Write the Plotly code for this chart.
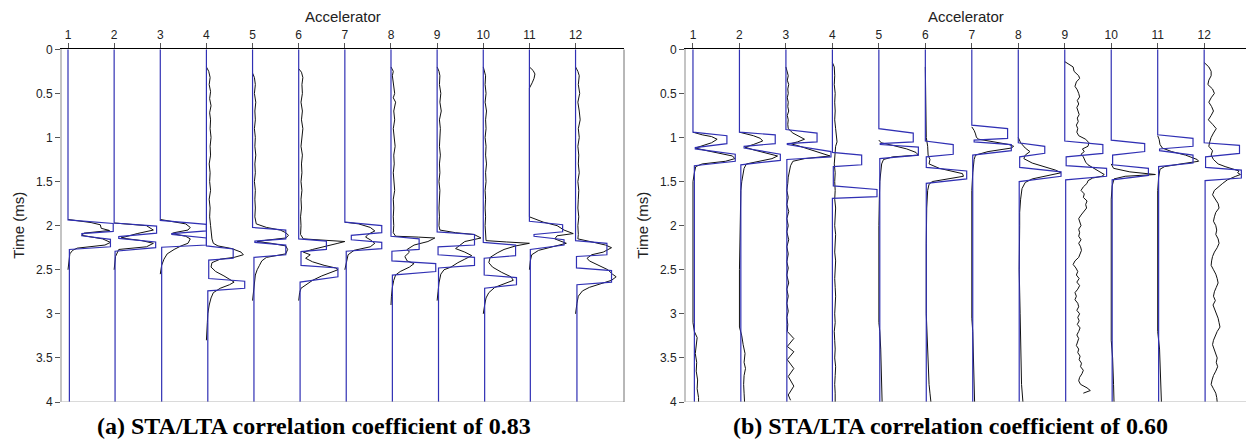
import plotly.graph_objects as go

accelerators = list(range(1, 13))
time_ticks = [0, 0.5, 1, 1.5, 2, 2.5, 3, 3.5, 4]
captions = ["(a) STA/LTA correlation coefficient of 0.83",
            "(b) STA/LTA correlation coefficient of 0.60"]

# ---------------------------------------------------------------------------
# Panel (a): STA/LTA picking windows, (time ms, amplitude) vertices per channel
# ---------------------------------------------------------------------------
a_window = [
    [(0, 0), (1.935, 0), (1.975, 0.98), (2.065, 0.98), (2.09, 0.3), (2.115, 0.3), (2.155, 0.92), (2.24, 0.92), (2.27, 0.03), (4, 0.03)],
    [(0, 0), (1.97, 0), (2.005, 0.92), (2.085, 0.92), (2.125, 0.1), (2.145, 0.1), (2.185, 0.9), (2.25, 0.9), (2.29, 0.02), (4, 0.02)],
    [(0, 0), (1.94, 0), (1.985, 1.0), (2.06, 1.0), (2.09, 0.25), (2.1, 0.25), (2.14, 1.0), (2.22, 1.0), (2.245, 0.03), (4, 0.03)],
    [(0, 0), (2.23, 0), (2.265, 0.58), (2.37, 0.58), (2.39, 0.05), (2.6, 0.05), (2.63, 0.83), (2.71, 0.83), (2.74, 0.03), (4, 0.03)],
    [(0, 0), (2.02, 0), (2.05, 0.72), (2.15, 0.72), (2.175, 0.05), (2.19, 0.05), (2.22, 0.72), (2.33, 0.72), (2.36, 0.03), (4, 0.03)],
    [(0, 0), (2.15, 0), (2.175, 0.6), (2.27, 0.6), (2.295, 0.05), (2.45, 0.05), (2.48, 0.85), (2.58, 0.85), (2.64, 0.03), (4, 0.03)],
    [(0, 0), (1.96, 0), (2.0, 0.8), (2.08, 0.8), (2.11, 0.14), (2.16, 0.14), (2.19, 0.8), (2.26, 0.8), (2.29, 0.03), (4, 0.03)],
    [(0, 0), (2.12, 0), (2.15, 0.61), (2.27, 0.61), (2.29, 0.02), (2.4, 0.02), (2.43, 0.97), (2.52, 0.97), (2.56, 0.03), (4, 0.03)],
    [(0, 0), (2.07, 0), (2.1, 0.81), (2.22, 0.81), (2.24, 0.02), (2.33, 0.02), (2.36, 0.81), (2.45, 0.81), (2.48, 0.03), (4, 0.03)],
    [(0, 0), (2.19, 0), (2.22, 0.7), (2.34, 0.7), (2.37, 0.02), (2.56, 0.02), (2.59, 0.72), (2.67, 0.72), (2.71, 0.03), (4, 0.03)],
    [(0, 0), (1.95, 0), (1.99, 0.72), (2.07, 0.72), (2.1, 0.1), (2.12, 0.1), (2.16, 0.75), (2.22, 0.75), (2.27, 0.02), (4, 0.02)],
    [(0, 0), (2.17, 0), (2.2, 0.68), (2.33, 0.68), (2.35, 0.02), (2.48, 0.02), (2.51, 0.78), (2.64, 0.78), (2.67, 0.03), (4, 0.03)],
]

# Panel (a): recorded acceleration envelopes, (time ms, amplitude)
a_signal = [
    [(1.93, 0), (1.965, 0.5), (1.99, 0.7), (2.03, 0.72), (2.055, 0.9), (2.085, 0.35), (2.11, 0.3), (2.15, 0.75), (2.19, 0.92), (2.22, 0.8), (2.255, 0.2), (2.28, 0.1), (2.32, 0.04), (2.4, 0.02), (2.5, 0)],
    [(1.97, 0), (2.0, 0.7), (2.05, 0.85), (2.09, 0.5), (2.14, 0.15), (2.17, 0.6), (2.2, 0.85), (2.24, 0.7), (2.27, 0.1), (2.35, 0.03), (2.5, 0)],
    [(1.93, 0), (1.96, 0.3), (1.98, 0.55), (2.02, 0.65), (2.05, 0.6), (2.08, 0.3), (2.09, 0.25), (2.12, 0.55), (2.15, 0.65), (2.2, 0.6), (2.23, 0.45), (2.27, 0.3), (2.32, 0.15), (2.38, 0.08), (2.45, 0.03), (2.55, 0)],
    [(0.2, 0), (0.25, 0.05), (0.32, 0.08), (0.4, 0.06), (0.48, 0.09), (0.56, 0.07), (0.64, 0.1), (0.72, 0.07), (0.8, 0.09), (0.9, 0.08), (1.0, 0.1), (1.1, 0.08), (1.2, 0.09), (1.3, 0.06), (1.4, 0.08), (1.5, 0.07), (1.6, 0.09), (1.7, 0.06), (1.8, 0.08), (1.9, 0.07), (2.0, 0.09), (2.08, 0.1), (2.15, 0.12), (2.2, 0.15), (2.23, 0.25), (2.26, 0.55), (2.3, 0.75), (2.33, 0.8), (2.36, 0.6), (2.38, 0.3), (2.42, 0.12), (2.47, 0.1), (2.52, 0.2), (2.57, 0.38), (2.61, 0.5), (2.64, 0.6), (2.67, 0.5), (2.71, 0.3), (2.76, 0.15), (2.82, 0.1), (2.9, 0.06), (3.0, 0.03), (3.1, 0.02), (3.2, 0.01), (3.3, 0)],
    [(0.27, 0), (0.32, 0.04), (0.4, 0.06), (0.5, 0.04), (0.6, 0.07), (0.7, 0.05), (0.8, 0.06), (0.9, 0.04), (1.0, 0.06), (1.1, 0.05), (1.2, 0.07), (1.3, 0.05), (1.4, 0.06), (1.5, 0.04), (1.6, 0.06), (1.7, 0.05), (1.8, 0.06), (1.9, 0.05), (1.98, 0.08), (2.02, 0.3), (2.05, 0.6), (2.08, 0.72), (2.11, 0.78), (2.14, 0.72), (2.165, 0.3), (2.18, 0.1), (2.2, 0.4), (2.23, 0.72), (2.27, 0.76), (2.32, 0.72), (2.36, 0.3), (2.4, 0.2), (2.45, 0.15), (2.5, 0.1), (2.56, 0.06), (2.65, 0.04), (2.75, 0.02), (2.85, 0)],
    [(0.22, 0), (0.26, 0.06), (0.32, 0.09), (0.4, 0.07), (0.5, 0.08), (0.6, 0.05), (0.7, 0.08), (0.8, 0.06), (0.9, 0.09), (1.0, 0.07), (1.1, 0.05), (1.2, 0.08), (1.3, 0.06), (1.4, 0.07), (1.5, 0.05), (1.6, 0.07), (1.7, 0.05), (1.8, 0.06), (1.9, 0.04), (2.0, 0.05), (2.1, 0.04), (2.15, 0.1), (2.17, 0.6), (2.18, 1.0), (2.2, 0.85), (2.23, 0.6), (2.27, 0.3), (2.3, 0.1), (2.33, 0.25), (2.37, 0.15), (2.41, 0.3), (2.45, 0.55), (2.48, 0.8), (2.5, 0.85), (2.53, 0.7), (2.57, 0.5), (2.62, 0.3), (2.67, 0.15), (2.71, 0.05), (2.76, 0.02), (2.85, 0)],
    [(1.96, 0), (1.98, 0.3), (2.02, 0.55), (2.06, 0.65), (2.1, 0.5), (2.13, 0.45), (2.16, 0.55), (2.2, 0.65), (2.24, 0.55), (2.28, 0.2), (2.33, 0.07), (2.4, 0.04), (2.5, 0)],
    [(0.2, 0), (0.25, 0.05), (0.3, 0.03), (0.4, 0.06), (0.5, 0.08), (0.55, 0.05), (0.6, 0.1), (0.7, 0.06), (0.8, 0.08), (0.9, 0.05), (1.0, 0.07), (1.1, 0.09), (1.2, 0.06), (1.3, 0.07), (1.4, 0.05), (1.5, 0.06), (1.6, 0.08), (1.7, 0.05), (1.8, 0.06), (1.9, 0.05), (2.0, 0.06), (2.08, 0.05), (2.12, 0.1), (2.13, 0.6), (2.14, 0.95), (2.18, 0.8), (2.22, 0.5), (2.27, 0.35), (2.3, 0.4), (2.35, 0.3), (2.4, 0.35), (2.43, 0.5), (2.47, 0.4), (2.52, 0.2), (2.56, 0.1), (2.62, 0.06), (2.7, 0.03), (2.8, 0.01), (2.9, 0)],
    [(0.2, 0), (0.25, 0.04), (0.3, 0.06), (0.4, 0.05), (0.5, 0.08), (0.6, 0.06), (0.7, 0.09), (0.8, 0.05), (0.9, 0.07), (1.0, 0.06), (1.1, 0.05), (1.2, 0.07), (1.3, 0.05), (1.4, 0.06), (1.5, 0.04), (1.6, 0.06), (1.7, 0.05), (1.8, 0.04), (1.9, 0.05), (2.0, 0.04), (2.05, 0.06), (2.08, 0.4), (2.1, 0.8), (2.14, 0.95), (2.18, 0.6), (2.22, 0.5), (2.26, 0.4), (2.3, 0.6), (2.34, 0.75), (2.38, 0.6), (2.42, 0.45), (2.47, 0.3), (2.5, 0.15), (2.55, 0.08), (2.65, 0.04), (2.75, 0.02), (2.85, 0)],
    [(0.2, 0), (0.25, 0.03), (0.3, 0.05), (0.4, 0.04), (0.5, 0.06), (0.6, 0.04), (0.7, 0.07), (0.8, 0.05), (0.9, 0.06), (1.0, 0.04), (1.1, 0.06), (1.2, 0.05), (1.3, 0.07), (1.4, 0.05), (1.5, 0.06), (1.6, 0.04), (1.7, 0.05), (1.8, 0.04), (1.9, 0.05), (2.0, 0.04), (2.1, 0.05), (2.17, 0.06), (2.185, 0.5), (2.2, 1.0), (2.23, 0.7), (2.27, 0.45), (2.31, 0.3), (2.36, 0.15), (2.42, 0.12), (2.47, 0.2), (2.53, 0.4), (2.58, 0.6), (2.62, 0.65), (2.66, 0.45), (2.7, 0.25), (2.76, 0.12), (2.82, 0.06), (2.9, 0.03), (3.0, 0)],
    [(0.2, 0), (0.24, 0.08), (0.28, 0.12), (0.33, 0.1), (0.38, 0.06), (0.44, 0), (1.9, 0), (1.96, 0.3), (2.0, 0.6), (2.05, 0.75), (2.09, 0.95), (2.115, 0.6), (2.15, 0.55), (2.2, 0.8), (2.24, 0.5), (2.28, 0.2), (2.33, 0.05), (2.4, 0.02), (2.5, 0)],
    [(0.2, 0), (0.25, 0.05), (0.3, 0.08), (0.4, 0.06), (0.5, 0.09), (0.6, 0.05), (0.7, 0.08), (0.8, 0.1), (0.9, 0.06), (1.0, 0.08), (1.1, 0.05), (1.2, 0.07), (1.3, 0.06), (1.4, 0.08), (1.5, 0.05), (1.6, 0.07), (1.7, 0.06), (1.8, 0.05), (1.9, 0.07), (2.0, 0.05), (2.1, 0.06), (2.15, 0.05), (2.19, 0.4), (2.22, 0.65), (2.25, 0.78), (2.3, 0.6), (2.33, 0.35), (2.37, 0.25), (2.4, 0.3), (2.45, 0.5), (2.5, 0.7), (2.55, 0.8), (2.58, 0.88), (2.62, 0.78), (2.66, 0.55), (2.7, 0.3), (2.74, 0.15), (2.8, 0.06), (2.88, 0.03), (3.0, 0)],
]

# ---------------------------------------------------------------------------
# Panel (b): STA/LTA picking windows
# ---------------------------------------------------------------------------
b_window = [
    [(0, 0), (0.94, 0), (0.98, 0.73), (1.07, 0.73), (1.115, 0.05), (1.13, 0.05), (1.19, 0.91), (1.27, 0.91), (1.32, 0.03), (4, 0.03)],
    [(0, 0), (0.94, 0), (0.97, 0.77), (1.07, 0.77), (1.1, 0.1), (1.12, 0.1), (1.19, 0.88), (1.26, 0.88), (1.31, 0.03), (4, 0.03)],
    [(0, 0), (0.91, 0), (0.95, 0.67), (1.05, 0.67), (1.07, 0.03), (1.08, 0.03), (1.16, 0.97), (1.22, 0.97), (1.25, 0.02), (4, 0.02)],
    [(0, 0), (1.17, 0), (1.2, 0.63), (1.31, 0.63), (1.33, 0.02), (1.55, 0.02), (1.59, 0.96), (1.67, 0.96), (1.69, 0), (4, 0)],
    [(0, 0), (0.9, 0), (0.95, 0.74), (1.05, 0.74), (1.07, 0.03), (1.08, 0.03), (1.11, 0.85), (1.2, 0.85), (1.24, 0.02), (4, 0.02)],
    [(0, 0), (1.04, 0), (1.08, 0.6), (1.19, 0.6), (1.22, 0.02), (1.34, 0.02), (1.38, 0.89), (1.47, 0.89), (1.52, 0.02), (4, 0.02)],
    [(0, 0), (0.86, 0), (0.9, 0.77), (1.01, 0.77), (1.03, 0.05), (1.05, 0.05), (1.08, 0.85), (1.15, 0.85), (1.2, 0.02), (4, 0.02)],
    [(0, 0), (1.06, 0), (1.1, 0.57), (1.18, 0.57), (1.22, 0.03), (1.34, 0.03), (1.39, 0.92), (1.44, 0.92), (1.5, 0.02), (4, 0.02)],
    [(0, 0), (1.04, 0), (1.08, 0.82), (1.18, 0.82), (1.22, 0.03), (1.32, 0.03), (1.35, 0.9), (1.44, 0.9), (1.48, 0.02), (4, 0.02)],
    [(0, 0), (1.03, 0), (1.07, 0.72), (1.16, 0.72), (1.2, 0.03), (1.31, 0.03), (1.35, 0.8), (1.43, 0.8), (1.48, 0.02), (4, 0.02)],
    [(0, 0), (0.97, 0), (1.01, 0.76), (1.1, 0.76), (1.13, 0.04), (1.15, 0.04), (1.2, 0.76), (1.29, 0.76), (1.33, 0.02), (4, 0.02)],
    [(0, 0), (1.06, 0), (1.09, 0.76), (1.18, 0.76), (1.22, 0.03), (1.34, 0.03), (1.37, 0.8), (1.46, 0.8), (1.49, 0.02), (4, 0.02)],
]

# Panel (b): recorded acceleration envelopes
b_signal = [
    [(0.94, 0), (0.97, 0.2), (0.99, 0.4), (1.02, 0.52), (1.06, 0.4), (1.1, 0.15), (1.12, 0.05), (1.15, 0.3), (1.18, 0.6), (1.21, 0.85), (1.24, 0.9), (1.27, 0.7), (1.3, 0.2), (1.33, 0.06), (1.4, 0.03), (1.5, 0), (3.1, 0), (3.2, 0.03), (3.27, 0.09), (3.35, 0.07), (3.45, 0.05), (3.55, 0.08), (3.65, 0.07), (3.75, 0.1), (3.85, 0.09), (3.95, 0.12), (4.0, 0.12)],
    [(0.94, 0), (0.98, 0.3), (1.01, 0.45), (1.04, 0.5), (1.08, 0.3), (1.11, 0.12), (1.14, 0.3), (1.18, 0.6), (1.21, 0.82), (1.24, 0.7), (1.27, 0.4), (1.3, 0.15), (1.35, 0.1), (1.4, 0.08), (1.5, 0.05), (1.6, 0.03), (1.8, 0.02), (2.0, 0.01), (2.5, 0), (3.15, 0), (3.25, 0.05), (3.35, 0.08), (3.45, 0.12), (3.55, 0.1), (3.62, 0.13), (3.7, 0.1), (3.8, 0.09), (3.9, 0.1), (4.0, 0.11)],
    [(0.2, 0), (0.25, 0.03), (0.3, 0.05), (0.35, 0.03), (0.4, 0.06), (0.45, 0.04), (0.5, 0.05), (0.55, 0.03), (0.6, 0.05), (0.65, 0.04), (0.7, 0.06), (0.75, 0.03), (0.8, 0.05), (0.85, 0.04), (0.9, 0.05), (0.95, 0.15), (0.99, 0.3), (1.02, 0.4), (1.05, 0.25), (1.07, 0.1), (1.1, 0.3), (1.14, 0.55), (1.19, 0.85), (1.21, 0.95), (1.24, 0.4), (1.27, 0.15), (1.32, 0.1), (1.38, 0.07), (1.45, 0.05), (1.52, 0.04), (1.6, 0.02), (1.68, 0.05), (1.76, 0.02), (1.84, 0.06), (1.92, 0.02), (2.0, 0.05), (2.07, 0.02), (2.16, 0.06), (2.24, 0.02), (2.32, 0.05), (2.41, 0.02), (2.48, 0.05), (2.56, 0.02), (2.65, 0.06), (2.72, 0.02), (2.8, 0.05), (2.88, 0.02), (2.97, 0.05), (3.04, 0.02), (3.12, 0.04), (3.2, 0.03), (3.28, 0.17), (3.37, 0.03), (3.43, 0.17), (3.52, 0.03), (3.62, 0.17), (3.71, 0.05), (3.82, 0.17), (3.92, 0.05), (3.98, 0.1)],
    [(0.15, 0), (0.2, 0.04), (0.3, 0.05), (0.4, 0.04), (0.5, 0.06), (0.6, 0.05), (0.7, 0.06), (0.8, 0.05), (0.9, 0.07), (1.0, 0.08), (1.05, 0.1), (1.1, 0.07), (1.15, 0.06), (1.2, 0.05), (1.3, 0.04), (1.4, 0.06), (1.5, 0.05), (1.6, 0.06), (1.7, 0.05), (1.8, 0.07), (1.9, 0.06), (2.0, 0.05), (2.1, 0.07), (2.2, 0.06), (2.3, 0.05), (2.4, 0.07), (2.5, 0.06), (2.6, 0.05), (2.7, 0.06), (2.8, 0.07), (2.9, 0.06), (3.0, 0.05), (3.1, 0.06), (3.2, 0.04), (3.3, 0.05), (3.4, 0.06), (3.5, 0.05), (3.6, 0.07), (3.7, 0.06), (3.8, 0.05), (3.9, 0.06), (4.0, 0.06)],
    [(1.03, 0), (1.06, 0.05), (1.09, 0.3), (1.13, 0.6), (1.17, 0.8), (1.2, 0.85), (1.22, 0.3), (1.25, 0.1), (1.3, 0.06), (1.4, 0.04), (1.5, 0.02), (1.7, 0.01), (2.0, 0), (3.1, 0), (3.2, 0.02), (3.4, 0.04), (3.6, 0.05), (3.8, 0.06), (4.0, 0.07)],
    [(0.2, 0), (0.5, 0.01), (1.0, 0.02), (1.1, 0.05), (1.2, 0.06), (1.25, 0.1), (1.3, 0.08), (1.35, 0.3), (1.38, 0.55), (1.41, 0.8), (1.44, 0.82), (1.47, 0.5), (1.5, 0.15), (1.53, 0.08), (1.6, 0.05), (1.8, 0.03), (2.2, 0.02), (3.0, 0.02), (3.3, 0.04), (3.6, 0.06), (3.8, 0.08), (3.9, 0.1), (4.0, 0.12)],
    [(0.88, 0), (0.92, 0.05), (0.96, 0.08), (1.0, 0.1), (1.02, 0.15), (1.05, 0.5), (1.08, 0.8), (1.1, 0.9), (1.12, 0.85), (1.16, 0.35), (1.2, 0.08), (1.25, 0.05), (1.4, 0.02), (1.6, 0), (3.05, 0), (3.2, 0.02), (3.5, 0.04), (3.8, 0.05), (4.0, 0.06)],
    [(1.0, 0), (1.06, 0.05), (1.12, 0.15), (1.16, 0.25), (1.2, 0.15), (1.24, 0.12), (1.29, 0.3), (1.33, 0.55), (1.37, 0.8), (1.4, 0.92), (1.44, 0.6), (1.47, 0.3), (1.51, 0.15), (1.58, 0.08), (1.7, 0.05), (1.85, 0.03), (2.0, 0.03), (2.5, 0.02), (3.0, 0.04), (3.4, 0.05), (3.8, 0.07), (4.0, 0.1)],
    [(0.14, 0), (0.17, 0.1), (0.2, 0.18), (0.25, 0.2), (0.3, 0.3), (0.33, 0.32), (0.37, 0.25), (0.42, 0.22), (0.46, 0.27), (0.5, 0.3), (0.54, 0.32), (0.58, 0.27), (0.62, 0.3), (0.66, 0.26), (0.7, 0.29), (0.74, 0.31), (0.78, 0.27), (0.82, 0.29), (0.86, 0.25), (0.9, 0.28), (0.94, 0.26), (0.98, 0.3), (1.02, 0.45), (1.06, 0.52), (1.1, 0.5), (1.13, 0.38), (1.16, 0.42), (1.19, 0.35), (1.22, 0.4), (1.25, 0.42), (1.28, 0.45), (1.31, 0.5), (1.34, 0.6), (1.37, 0.7), (1.4, 0.78), (1.42, 0.85), (1.44, 0.8), (1.46, 0.6), (1.49, 0.5), (1.52, 0.48), (1.56, 0.4), (1.6, 0.35), (1.64, 0.42), (1.68, 0.4), (1.72, 0.48), (1.76, 0.45), (1.8, 0.47), (1.84, 0.4), (1.88, 0.35), (1.92, 0.3), (1.96, 0.33), (2.0, 0.35), (2.04, 0.3), (2.08, 0.32), (2.12, 0.3), (2.16, 0.35), (2.2, 0.3), (2.24, 0.34), (2.28, 0.36), (2.32, 0.33), (2.36, 0.3), (2.4, 0.22), (2.44, 0.18), (2.48, 0.24), (2.52, 0.28), (2.56, 0.25), (2.6, 0.31), (2.64, 0.26), (2.68, 0.32), (2.72, 0.28), (2.76, 0.22), (2.8, 0.25), (2.84, 0.22), (2.88, 0.28), (2.92, 0.3), (2.96, 0.26), (3.0, 0.32), (3.04, 0.28), (3.08, 0.31), (3.12, 0.27), (3.16, 0.33), (3.2, 0.3), (3.24, 0.26), (3.28, 0.3), (3.32, 0.27), (3.36, 0.25), (3.4, 0.3), (3.44, 0.28), (3.48, 0.33), (3.52, 0.31), (3.56, 0.36), (3.6, 0.34), (3.64, 0.4), (3.68, 0.37), (3.72, 0.32), (3.76, 0.3), (3.8, 0.34), (3.84, 0.48), (3.87, 0.55), (3.89, 0.42), (3.9, 0.4)],
    [(1.3, 0), (1.35, 0.05), (1.39, 0.4), (1.42, 0.95), (1.44, 0.3), (1.47, 0.06), (1.55, 0.02), (1.7, 0), (3.3, 0), (3.5, 0.03), (3.8, 0.05), (4.0, 0.06)],
    [(0.98, 0), (1.02, 0.03), (1.08, 0.05), (1.12, 0.1), (1.16, 0.3), (1.2, 0.6), (1.25, 0.85), (1.27, 0.88), (1.3, 0.5), (1.33, 0.15), (1.36, 0.05), (1.45, 0.02), (1.6, 0), (3.2, 0), (3.4, 0.04), (3.7, 0.06), (4.0, 0.08)],
    [(0.15, 0), (0.2, 0.1), (0.25, 0.15), (0.3, 0.15), (0.35, 0.1), (0.4, 0.08), (0.45, 0.18), (0.5, 0.22), (0.55, 0.15), (0.6, 0.1), (0.65, 0.16), (0.7, 0.2), (0.75, 0.15), (0.8, 0.09), (0.85, 0.18), (0.9, 0.26), (0.95, 0.2), (1.0, 0.15), (1.05, 0.12), (1.1, 0.1), (1.15, 0.18), (1.2, 0.15), (1.25, 0.2), (1.3, 0.3), (1.33, 0.45), (1.36, 0.65), (1.38, 0.75), (1.4, 0.72), (1.42, 0.78), (1.44, 0.68), (1.46, 0.6), (1.48, 0.5), (1.52, 0.4), (1.56, 0.3), (1.6, 0.22), (1.65, 0.18), (1.7, 0.25), (1.75, 0.3), (1.8, 0.32), (1.85, 0.25), (1.9, 0.22), (1.95, 0.2), (2.0, 0.25), (2.05, 0.27), (2.1, 0.25), (2.15, 0.3), (2.2, 0.32), (2.25, 0.28), (2.3, 0.22), (2.35, 0.18), (2.4, 0.16), (2.45, 0.15), (2.5, 0.2), (2.55, 0.25), (2.6, 0.28), (2.65, 0.3), (2.7, 0.26), (2.75, 0.22), (2.8, 0.2), (2.85, 0.24), (2.9, 0.19), (2.95, 0.23), (3.0, 0.26), (3.05, 0.3), (3.1, 0.32), (3.15, 0.34), (3.2, 0.28), (3.25, 0.24), (3.3, 0.2), (3.35, 0.18), (3.4, 0.21), (3.45, 0.25), (3.5, 0.28), (3.55, 0.26), (3.6, 0.29), (3.65, 0.25), (3.7, 0.2), (3.75, 0.17), (3.8, 0.15), (3.85, 0.2), (3.9, 0.25), (3.95, 0.27), (4.0, 0.28)],
]

W, H = 1246, 443
SIGNAL_COLOR = "#111111"
WINDOW_COLOR = "#3030b4"
SANS = "Liberation Sans, Arial, sans-serif"
SERIF = "Liberation Serif, Times New Roman, serif"

# panel geometry in pixels: left edge, right edge, x range
panels = [
    dict(xa="x", ya="y", left=62, right=624, xr=[0.87, 13.05], box=True,
         windows=a_window, signals=a_signal, caption=captions[0], cap_x=314, title_x=19),
    dict(xa="x2", ya="y2", left=686, right=1246, xr=[0.85, 12.90], box=False,
         windows=b_window, signals=b_signal, caption=captions[1], cap_x=950, title_x=643),
]
plot_top, plot_bottom = 49.3, 402.0
y_dom = [1 - plot_bottom / H, 1 - plot_top / H]

fig = go.Figure()

for p in panels:
    # envelopes underneath, picking windows drawn over them
    for ch, trace in zip(accelerators, p["signals"]):
        fig.add_trace(go.Scatter(
            x=[ch + a for t, a in trace], y=[t for t, a in trace],
            mode="lines", line=dict(color=SIGNAL_COLOR, width=1),
            xaxis=p["xa"], yaxis=p["ya"], hoverinfo="skip"))
    for ch, trace in zip(accelerators, p["windows"]):
        fig.add_trace(go.Scatter(
            x=[ch + a for t, a in trace], y=[t for t, a in trace],
            mode="lines", line=dict(color=WINDOW_COLOR, width=1.2),
            xaxis=p["xa"], yaxis=p["ya"], hoverinfo="skip"))

axis_common_x = dict(
    side="top", tickvals=accelerators, ticks="outside", ticklen=5,
    tickcolor="#555555", showline=True, linecolor="#000000", linewidth=1,
    showgrid=False, zeroline=False, automargin=False,
    tickfont=dict(family=SANS, size=12, color="#222222"))
axis_common_y = dict(
    range=[4, 0], tickvals=time_ticks, ticks="outside", ticklen=5,
    tickcolor="#555555", showline=True, linecolor="#c4c4c4", linewidth=2,
    showgrid=False, zeroline=False, domain=y_dom, automargin=False,
    tickfont=dict(family=SANS, size=12, color="#222222"))

fig.update_layout(
    xaxis=dict(axis_common_x, domain=[62 / W, 624 / W], range=panels[0]["xr"], anchor="y"),
    yaxis=dict(axis_common_y, anchor="x"),
    xaxis2=dict(axis_common_x, domain=[686 / W, 1.0], range=panels[1]["xr"], anchor="y2"),
    yaxis2=dict(axis_common_y, anchor="x2"),
)

shapes = []
annotations = []
for p in panels:
    xd = p["xa"] + " domain"
    shapes.append(dict(type="line", xref=xd, yref=p["ya"], x0=0, x1=1, y0=4, y1=4,
                       line=dict(color="#b4b4b4", width=1)))
    if p["box"]:
        shapes.append(dict(type="line", xref=xd, yref=p["ya"], x0=1, x1=1, y0=0, y1=4,
                           line=dict(color="#707070", width=1)))
    cx = (p["left"] + p["right"]) / 2 / W
    annotations.append(dict(text="Accelerator", xref="paper", yref="paper",
                            x=cx, y=1 - 16 / H, showarrow=False,
                            xanchor="center", yanchor="middle",
                            font=dict(family=SANS, size=15, color="#222222")))
    annotations.append(dict(text="Time (ms)", xref="paper", yref="paper",
                            x=p["title_x"] / W, y=1 - (plot_top + plot_bottom) / 2 / H,
                            showarrow=False, textangle=-90,
                            xanchor="center", yanchor="middle",
                            font=dict(family=SANS, size=15, color="#222222")))
    annotations.append(dict(text="<b>%s</b>" % p["caption"], xref="paper", yref="paper",
                            x=p["cap_x"] / W, y=1 - 426 / H, showarrow=False,
                            xanchor="center", yanchor="middle",
                            font=dict(family=SERIF, size=24, color="#000000")))

fig.update_layout(
    width=W, height=H, margin=dict(l=0, r=0, t=0, b=0, pad=0),
    paper_bgcolor="white", plot_bgcolor="white",
    showlegend=False, hovermode=False,
    shapes=shapes, annotations=annotations,
)

fig.write_html("out.html")
